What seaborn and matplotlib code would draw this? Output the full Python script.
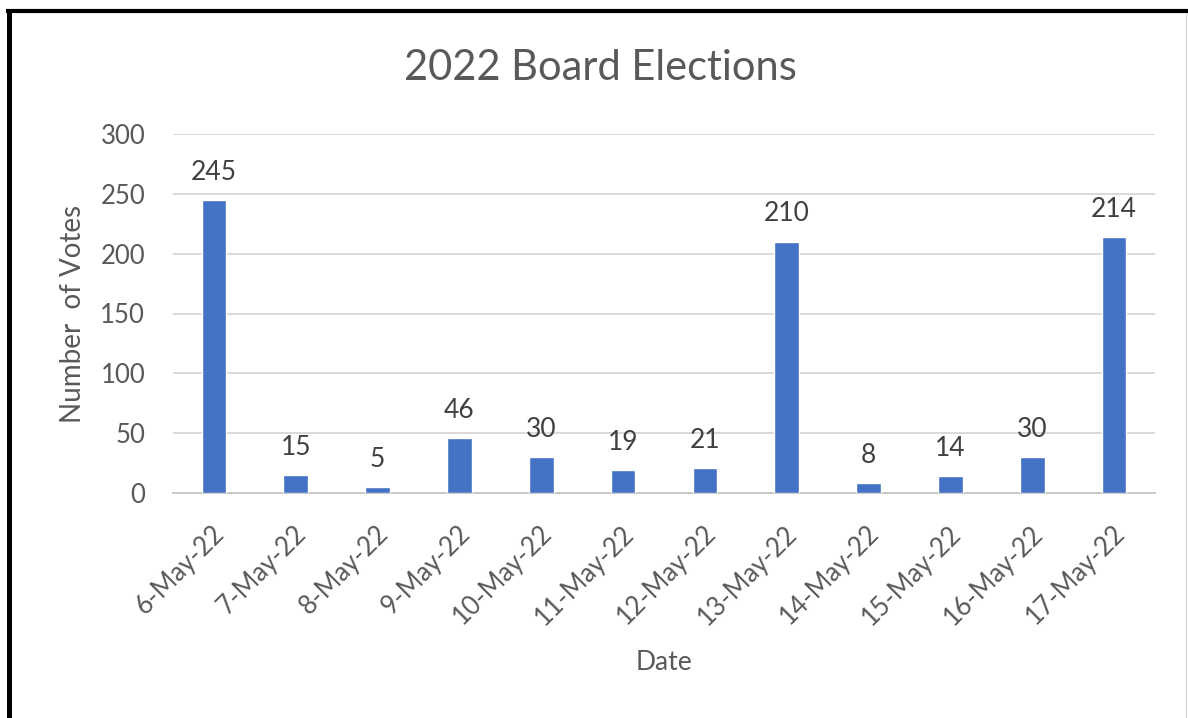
import matplotlib
matplotlib.use("Agg")
import matplotlib.pyplot as plt
import matplotlib.transforms as mtransforms
from matplotlib.lines import Line2D
import seaborn as sns
import pandas as pd
import numpy as np

dates = ["6-May-22", "7-May-22", "8-May-22", "9-May-22", "10-May-22", "11-May-22",
         "12-May-22", "13-May-22", "14-May-22", "15-May-22", "16-May-22", "17-May-22"]
votes = [245, 15, 5, 46, 30, 19, 21, 210, 8, 14, 30, 214]
yticks = [0, 50, 100, 150, 200, 250, 300]

title = "2022 Board Elections"
xlabel = "Date"
ylabel = "Number  of Votes"

sns.set_style("white")
plt.rcParams['font.family'] = ['Lato', 'DejaVu Sans']

TXT = "#595959"
BAR = "#4472C4"
GRID = "#D9D9D9"

W, H = 1188, 718
fig = plt.figure(figsize=(W / 100, H / 100), dpi=100)
fig.patch.set_facecolor("white")

left, right, top, bottom = 173, 1155, 134, 493
ax = fig.add_axes([left / W, 1 - bottom / H, (right - left) / W, (bottom - top) / H])

df = pd.DataFrame({"date": dates, "votes": votes})
sns.barplot(data=df, x="date", y="votes", color=BAR, saturation=1, width=0.3, ax=ax, zorder=3)

ax.set_ylim(0, 300)
ax.set_xlim(-0.5, len(dates) - 0.5)
ax.set_yticks(yticks)
ax.set_yticklabels([str(v) for v in yticks])
ax.yaxis.grid(True, color=GRID, lw=1.4, zorder=0)
ax.set_axisbelow(True)

for s in ["left", "right", "top"]:
    ax.spines[s].set_visible(False)
ax.spines["bottom"].set_color("#C9C9C9")
ax.spines["bottom"].set_linewidth(1.4)

# tick marks at category boundaries
ax.set_xticks(np.arange(-0.5, len(dates), 1.0), minor=True)
ax.tick_params(axis="x", which="minor", length=7.5, width=1.4, color="#C9C9C9", direction="out")
ax.tick_params(axis="x", which="major", length=0, pad=20, labelsize=18.5, labelcolor=TXT)
ax.tick_params(axis="y", which="major", length=0, pad=20, labelsize=18.5, labelcolor=TXT)

offset = mtransforms.ScaledTranslation(-2 / 100, 0, fig.dpi_scale_trans)
for lab in ax.get_xticklabels():
    lab.set_rotation(45)
    lab.set_ha("right")
    lab.set_va("top")
    lab.set_rotation_mode("anchor")
    lab.set_transform(lab.get_transform() + offset)

ax.set_xlabel(xlabel, fontsize=19, color=TXT)
ax.set_ylabel(ylabel, fontsize=20, color=TXT)
ax.xaxis.set_label_coords(0.5, (bottom - 650) / (bottom - top))
ax.yaxis.set_label_coords((86 - left) / (right - left), 0.5)

for c in ax.containers:
    ax.bar_label(c, labels=[str(v) for v in votes], padding=11, fontsize=19, color="#404040")

fig.text(600 / W, 1 - 68 / H, title, fontsize=30, color=TXT, ha="center", va="center")

# outer frame
fig.add_artist(Line2D([6 / W, 1.0], [1 - 11 / H, 1 - 11 / H], transform=fig.transFigure,
                      color="black", lw=3.0, solid_capstyle="butt"))
fig.add_artist(Line2D([8.5 / W, 8.5 / W], [0, 1 - 9 / H], transform=fig.transFigure,
                      color="black", lw=3.6, solid_capstyle="butt"))
fig.add_artist(Line2D([1186 / W, 1186 / W], [0, 1 - 13 / H], transform=fig.transFigure,
                      color="#D9D9D9", lw=1.0, solid_capstyle="butt"))

fig.savefig("out.png", dpi=100, facecolor="white")
